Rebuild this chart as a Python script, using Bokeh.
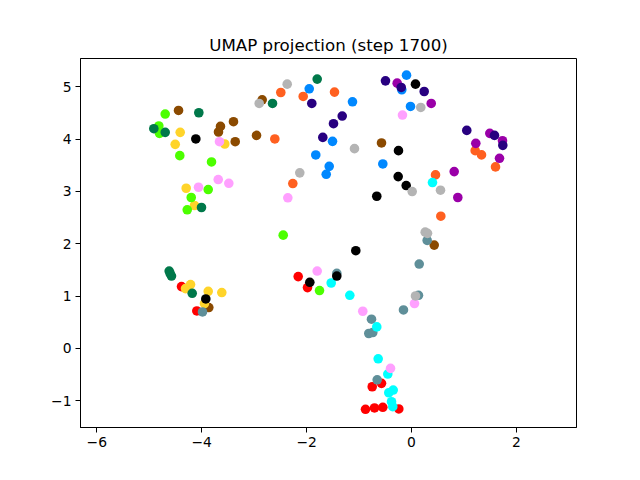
from bokeh.plotting import figure
from bokeh.models import FixedTicker, Range1d
from bokeh.embed import file_html
from bokeh.resources import INLINE

title = "UMAP projection (step 1700)"
x_ticks = [-6, -4, -2, 0, 2]
y_ticks = [-1, 0, 1, 2, 3, 4, 5]

red_x = [-4.385, -4.093, -2.160, -1.983, -0.749, -0.572, -0.877, -0.705, -0.547, -0.242]
red_y = [1.182, 0.717, 1.373, 1.163, -0.732, -0.667, -1.163, -1.138, -1.125, -1.157]

orange_x = [-2.492, -2.065, -1.468, -2.606, -2.263, 0.458, 0.559, 1.214, 1.335, 1.602]
orange_y = [4.892, 4.816, 4.900, 4.004, 3.152, 3.317, 2.528, 3.781, 3.699, 3.470]

brown_x = [-2.847, -4.442, -3.642, -3.680, -3.394, -3.361, -2.955, -0.572, 0.433, -3.865]
brown_y = [4.753, 4.549, 4.244, 4.137, 4.334, 3.952, 4.072, 3.928, 1.975, 0.782]

yellow_x = [-4.410, -4.505, -3.560, -4.296, -4.137, -4.309, -4.213, -3.876, -3.617, -3.947]
yellow_y = [4.130, 3.901, 3.908, 3.062, 2.732, 1.144, 1.220, 1.092, 1.068, 0.858]

lime_x = [-4.696, -4.818, -4.805, -4.418, -3.813, -3.876, -4.200, -4.276, -2.446, -1.754]
lime_y = [4.480, 4.252, 4.111, 3.685, 3.565, 3.037, 2.885, 2.650, 2.166, 1.106]

dgreen_x = [-4.055, -4.913, -4.696, -4.004, -2.650, -1.798, -4.620, -4.576, -4.181, -4.600]
dgreen_y = [4.505, 4.200, 4.130, 2.694, 4.683, 5.148, 1.479, 1.384, 1.054, 1.430]

slate_x = [-3.985, -1.424, 0.133, -0.153, -0.763, -0.814, -0.738, -0.654, 0.299, 0.147]
slate_y = [0.698, 1.436, 1.016, 0.736, 0.559, 0.286, 0.305, -0.599, 2.065, 1.613]

cyan_x = [-1.531, -1.176, -0.662, -0.635, -0.452, -0.349, -0.433, -0.381, -0.357, 0.400]
cyan_y = [1.251, 1.016, 0.412, -0.198, -0.490, -0.795, -0.847, -1.018, -1.113, 3.171]

blue_x = [-1.950, -1.125, -1.506, -1.825, -1.569, -1.626, -0.095, -0.185, -0.019, -0.547]
blue_y = [4.963, 4.715, 3.958, 3.699, 3.481, 3.329, 5.224, 4.944, 4.625, 3.527]

magenta_x = [-0.273, 0.376, 1.493, 1.735, 1.226, 1.678, 0.814, 0.883]
magenta_y = [5.071, 4.683, 4.111, 3.971, 3.920, 3.634, 3.380, 2.885]

indigo_x = [-1.901, -1.321, -1.487, -1.691, -0.496, -0.196, 0.242, 1.054, 1.582, 1.741]
indigo_y = [4.683, 4.442, 4.296, 4.034, 5.115, 4.988, 4.911, 4.168, 4.072, 3.882]

pink_x = [-3.661, -3.685, -3.483, -4.061, -2.358, -0.172, -1.798, 0.057, -0.929, -0.400]
pink_y = [3.952, 3.228, 3.157, 3.081, 2.879, 4.461, 1.479, 0.858, 0.711, -0.381]

black_x = [-4.112, 0.076, -0.248, -0.254, -0.101, -0.662, -1.062, -1.939, -1.424, -3.922]
black_y = [4.004, 5.052, 3.781, 3.285, 3.113, 2.909, 1.868, 1.264, 1.384, 0.946]

gray_x = [-2.370, -2.904, -2.130, -1.087, 0.177, 0.013, 0.553, 0.261, 0.076, 0.305]
gray_y = [5.052, 4.683, 3.356, 3.819, 4.606, 2.999, 3.024, 2.223, 1.003, 2.200]

series = [
    (red_x, red_y, "#ff0000"),
    (orange_x, orange_y, "#ff6020"),
    (brown_x, brown_y, "#8b4a00"),
    (yellow_x, yellow_y, "#ffd42a"),
    (lime_x, lime_y, "#4cff00"),
    (dgreen_x, dgreen_y, "#00784a"),
    (slate_x, slate_y, "#5f8f99"),
    (cyan_x, cyan_y, "#00ffff"),
    (blue_x, blue_y, "#0088ff"),
    (magenta_x, magenta_y, "#9a00a8"),
    (indigo_x, indigo_y, "#280080"),
    (pink_x, pink_y, "#ffa0ff"),
    (black_x, black_y, "#000000"),
    (gray_x, gray_y, "#b4b4b4"),
]

p = figure(width=640, height=480, output_backend="svg", toolbar_location=None,
           x_range=Range1d(-6.311, 3.146), y_range=Range1d(-1.511, 5.542),
           min_border_left=80, min_border_right=64, min_border_top=58, min_border_bottom=53,
           title=title)
p.title.text_font = "DejaVu Sans"
p.title.text_font_size = "16.67px"
p.title.text_font_style = "normal"
p.title.align = "center"
p.title.text_color = "black"
p.title.standoff = 8

for xs, ys, c in series:
    p.scatter(xs, ys, size=9.6, fill_color=c, line_color=None)

p.xgrid.visible = False
p.ygrid.visible = False
p.outline_line_color = "black"
p.outline_line_width = 1
p.background_fill_color = "white"
p.border_fill_color = "white"

p.xaxis.ticker = FixedTicker(ticks=x_ticks)
p.yaxis.ticker = FixedTicker(ticks=y_ticks)
p.xaxis.major_label_overrides = {t: str(t).replace("-", "\u2212") for t in x_ticks}
p.yaxis.major_label_overrides = {t: str(t).replace("-", "\u2212") for t in y_ticks}
for ax in (p.xaxis, p.yaxis):
    ax.axis_line_color = "black"
    ax.major_tick_line_color = "black"
    ax.major_tick_out = 5
    ax.major_tick_in = 0
    ax.minor_tick_line_color = None
    ax.major_label_text_font = "DejaVu Sans"
    ax.major_label_text_font_size = "13.89px"
    ax.major_label_text_color = "black"
    ax.major_label_standoff = 4

open("out.html", "w").write(file_html(p, INLINE))
